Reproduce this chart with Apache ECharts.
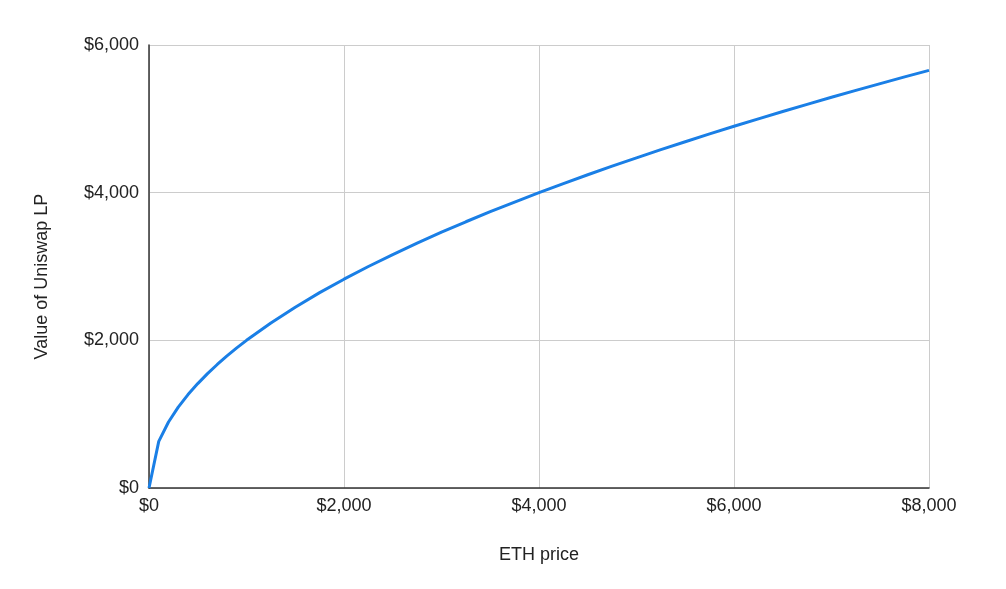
<!DOCTYPE html>
<html>
<head>
<meta charset="utf-8">
<script src="https://cdn.jsdelivr.net/npm/echarts@6/dist/echarts.min.js"></script>
<style>html,body{margin:0;padding:0;background:#fff;}#c{width:1006px;height:589px;}</style>
</head>
<body>
<div id="c"></div>
<script>
const ethPrice = [0,100,200,300,400,500,600,700,800,900,1000,1250,1500,1750,2000,2250,2500,2750,3000,3250,3500,3750,4000,4250,4500,4750,5000,5250,5500,5750,6000,6250,6500,6750,7000,7250,7500,7750,8000];
const lpValue = [0,632,894,1095,1265,1414,1549,1673,1789,1897,2000,2236,2449,2646,2828,3000,3162,3317,3464,3606,3742,3873,4000,4123,4243,4359,4472,4583,4690,4796,4899,5000,5099,5196,5292,5385,5477,5568,5657];
const xTicks = {min:0, max:8000, interval:2000};
const yTicks = {min:0, max:6000, interval:2000};

const chart = echarts.init(document.getElementById('c'), null, {renderer:'canvas'});
const fmt = v => '$' + v.toLocaleString('en-US');
const font = 'Liberation Sans, Arial, Helvetica, sans-serif';
chart.setOption({
  animation:false,
  grid:{left:149, right:77, top:45, bottom:101, containLabel:false},
  xAxis:{
    type:'value', min:xTicks.min, max:xTicks.max, interval:xTicks.interval,
    name:'ETH price', nameLocation:'middle', nameGap:58,
    nameTextStyle:{fontSize:18, color:'#222', fontFamily:font},
    axisLine:{show:true, lineStyle:{color:'#333', width:1.5}},
    axisTick:{show:false},
    axisLabel:{formatter:fmt, fontSize:18, color:'#222', fontFamily:font, margin:9},
    splitLine:{show:true, lineStyle:{color:'#cccccc', width:1}}
  },
  yAxis:{
    type:'value', min:yTicks.min, max:yTicks.max, interval:yTicks.interval,
    name:'Value of Uniswap LP', nameLocation:'middle', nameGap:98, nameRotate:90,
    nameTextStyle:{fontSize:18, color:'#222', fontFamily:font, padding:[0,20,0,0]},
    axisLine:{show:true, lineStyle:{color:'#333', width:1.5}},
    axisTick:{show:false},
    axisLabel:{formatter:fmt, fontSize:18, color:'#222', fontFamily:font, margin:10},
    splitLine:{show:true, lineStyle:{color:'#cccccc', width:1}}
  },
  series:[{
    type:'line',
    data:ethPrice.map((p,i)=>[p, lpValue[i]]),
    showSymbol:false,
    lineStyle:{color:'#1a7fe6', width:3},
    itemStyle:{color:'#1a7fe6'}
  }]
});
</script>
</body>
</html>
